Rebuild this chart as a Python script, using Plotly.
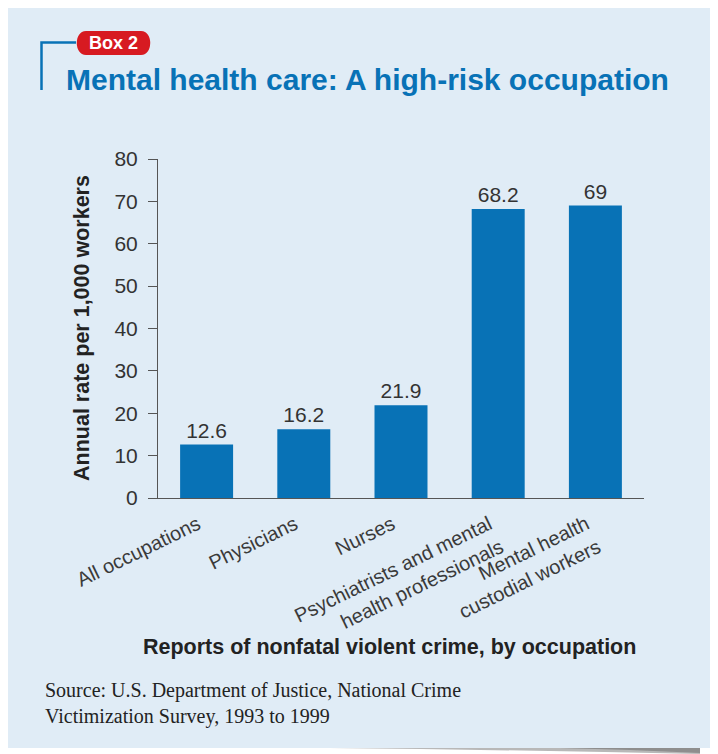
import plotly.graph_objects as go

categories = ["All occupations", "Physicians", "Nurses",
              "Psychiatrists and mental<br>health professionals",
              "Mental health<br>custodial workers"]
values = [12.6, 16.2, 21.9, 68.2, 69]
value_labels = ["12.6", "16.2", "21.9", "68.2", "69"]
y_ticks = [0, 10, 20, 30, 40, 50, 60, 70, 80]

OFF = 8  # page body margin
W, H = 718 - OFF, 754 - OFF
L, R, T, B = 158, 644, 159, 498  # plot area in page pixels


def px(x):
    return (x - L) / (R - L)


def py(y):
    return (B - y) / (B - T)


BLUE = "#0872B6"
PANEL = "#E0ECF6"
TXT = "#333333"

fig = go.Figure()
fig.add_trace(go.Bar(
    x=categories, y=values, marker_color=BLUE, marker_line_width=0,
    text=value_labels, textposition="outside", cliponaxis=False,
    textfont=dict(family="Liberation Sans, Arial", size=21, color=TXT),
    hoverinfo="skip",
))

shapes = []
shapes.append(dict(type="rect", xref="paper", yref="paper", layer="below",
                   x0=px(7), x1=px(730), y0=py(748), y1=py(7),
                   fillcolor=PANEL, line_width=0))
shapes.append(dict(type="path", xref="paper", yref="paper", layer="below",
                   path=f"M {px(330)},{py(748)} L {px(700)},{py(748)} L {px(700)},{py(754)} Q {px(520)},{py(750)} {px(330)},{py(748)} Z",
                   fillcolor="#B8B8B8", line_width=0))
shapes.append(dict(type="path", xref="paper", yref="paper", layer="below",
                   path=f"M {px(560)},{py(748)} L {px(700)},{py(748)} L {px(700)},{py(753)} Q {px(630)},{py(749.5)} {px(560)},{py(748)} Z",
                   fillcolor="#8E8E8E", line_width=0))
shapes.append(dict(type="path", xref="paper", yref="paper",
                   path=f"M {px(41.5)},{py(90)} L {px(41.5)},{py(42.5)} L {px(76)},{py(42.5)}",
                   line=dict(color=BLUE, width=2.5)))
x0p, x1p, y0p, y1p, r = 74, 153, 31, 55, 12
shapes.append(dict(type="path", xref="paper", yref="paper",
                   path=(f"M {px(x0p + r)},{py(y0p)} L {px(x1p - r)},{py(y0p)} "
                         f"C {px(x1p + 0.3)},{py(y0p)} {px(x1p + 0.3)},{py(y1p)} {px(x1p - r)},{py(y1p)} "
                         f"L {px(x0p + r)},{py(y1p)} "
                         f"C {px(x0p - 0.3)},{py(y1p)} {px(x0p - 0.3)},{py(y0p)} {px(x0p + r)},{py(y0p)} Z"),
                   fillcolor="#D71A21", line_width=0))

annotations = [
    dict(text="<b>Box 2</b>", x=px(113.5), y=py(43), xref="paper", yref="paper",
         showarrow=False, xanchor="center", yanchor="middle",
         font=dict(family="Liberation Sans Narrow, Liberation Sans, Arial", size=18, color="white")),
    dict(text="<b>Mental health care: A high-risk occupation</b>", x=px(64), y=py(79),
         xref="paper", yref="paper", showarrow=False, xanchor="left", yanchor="middle",
         font=dict(family="Liberation Sans, Arial", size=30, color=BLUE)),
    dict(text="<b>Annual rate per 1,000 workers</b>", x=px(82), y=py(328),
         xref="paper", yref="paper", showarrow=False, xanchor="center", yanchor="middle",
         textangle=-90, font=dict(family="Liberation Sans, Arial", size=21.5, color="#222222")),
    dict(text="<b>Reports of nonfatal violent crime, by occupation</b>", x=px(389), y=py(647),
         xref="paper", yref="paper", showarrow=False, xanchor="center", yanchor="middle",
         font=dict(family="Liberation Sans, Arial", size=21.5, color="#222222")),
    dict(text="Source: U.S. Department of Justice, National Crime<br>Victimization Survey, 1993 to 1999",
         x=px(43), y=py(703), xref="paper", yref="paper", showarrow=False,
         xanchor="left", yanchor="middle", align="left",
         font=dict(family="Liberation Serif, Times New Roman", size=20, color="#222222")),
]

fig.update_layout(
    width=W, height=H,
    margin=dict(l=L - OFF, r=(W + OFF) - R, t=T - OFF, b=(H + OFF) - B, pad=0),
    paper_bgcolor="white", plot_bgcolor="rgba(0,0,0,0)",
    showlegend=False, bargap=0.455,
    shapes=shapes, annotations=annotations,
)
fig.update_xaxes(
    showline=True, linecolor="#555555", linewidth=1, showgrid=False,
    ticks="", tickangle=-26, ticklabelshift=-9, ticklabelstandoff=6,
    tickfont=dict(family="Liberation Sans, Arial", size=20, color="#3a3a3a"),
)
fig.update_yaxes(
    range=[0, 80], tickvals=y_ticks, showline=True, linecolor="#555555", linewidth=1,
    showgrid=False, zeroline=False, ticks="outside", ticklen=9, tickcolor="#555555",
    ticklabelstandoff=6,
    tickfont=dict(family="Liberation Sans, Arial", size=21, color=TXT),
)

fig.write_html("out.html")
